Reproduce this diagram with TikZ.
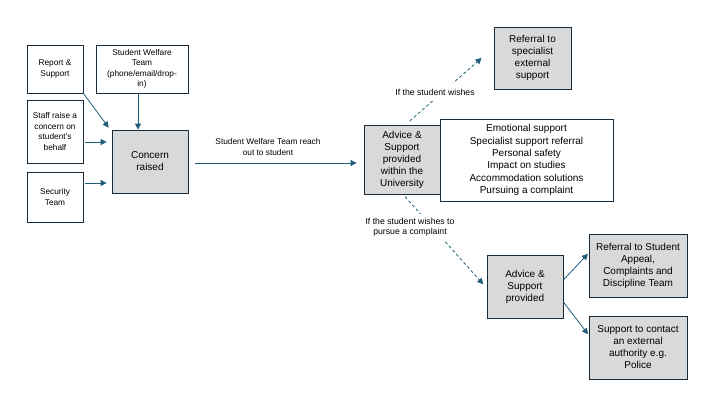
\documentclass[tikz,border=0pt]{standalone}
\usepackage{fontspec}
\setmainfont{Liberation Sans}
\usetikzlibrary{arrows.meta}
\definecolor{bordercol}{HTML}{172B3A}
\definecolor{arrcol}{HTML}{1F5C7A}
\definecolor{boxfill}{HTML}{D9D9D9}
\tikzset{
  box/.style={draw=bordercol, line width=0.8pt, align=center, inner sep=1pt},
  greybox/.style={box, fill=boxfill, font=\fontsize{10}{12}\selectfont},
  smallbox/.style={box, fill=white, font=\fontsize{8.3}{10.5}\selectfont},
  listbox/.style={box, fill=white, font=\fontsize{10}{12.3}\selectfont},
  lbl/.style={font=\fontsize{8.3}{10.3}\selectfont, align=center, inner sep=1pt},
  elbl/.style={lbl, font=\fontsize{8.7}{10.5}\selectfont, fill=white},
  arr/.style={draw=arrcol, line width=0.8pt, -{Triangle[length=6pt,width=6pt]}},
  darr/.style={arr, dash pattern=on 3pt off 2.5pt},
}
\begin{document}
\begin{tikzpicture}[x=1pt,y=-1pt]
\useasboundingbox (0,0) rectangle (720,405);
% left inputs
\node[smallbox, minimum width=56, minimum height=48] (rep) at (55,69) {Report \&\\Support};
\node[smallbox, minimum width=92, minimum height=48] (swt) at (142,69) {Student Welfare\\Team\\(phone/email/drop-\\in)};
\node[smallbox, minimum width=56, minimum height=63] (staff) at (55,131.5) {Staff raise a\\concern on\\student's\\behalf};
\node[smallbox, minimum width=56, minimum height=50] (sec) at (55,197) {Security\\Team};
\node[greybox, minimum width=76, minimum height=63] (concern) at (150,161.5) {Concern\\raised};
% middle
\node[greybox, minimum width=76, minimum height=69] (adv) at (402,159.5) {Advice \&\\Support\\provided\\within the\\University};
\node[listbox, minimum width=173, minimum height=82] (list) at (526.5,160) {Emotional support\\Specialist support referral\\Personal safety\\Impact on studies\\Accommodation solutions\\Pursuing a complaint};
\node[greybox, minimum width=77, minimum height=62] (ref) at (532.5,58) {Referral to\\specialist\\external\\support};
% bottom right
\node[greybox, minimum width=76, minimum height=63] (adv2) at (525,286.5) {Advice \&\\Support\\provided};
\node[greybox, minimum width=98, minimum height=63] (sacd) at (638,265.5) {Referral to Student\\Appeal,\\Complaints and\\Discipline Team};
\node[greybox, minimum width=98, minimum height=63] (ext) at (638,347.5) {Support to contact\\an external\\authority e.g.\\Police};
% arrows into concern
\draw[arr, shorten >=5pt] (rep.south east) -- ([yshift=-2]concern.north west);
\draw[arr] ([xshift=-4]swt.south) -- ([xshift=-4]swt.south |- concern.north);
\draw[arr, shorten <=2pt, shorten >=5pt] ([yshift=-10.5]staff.east) -- ([yshift=-10.5]staff.east -| concern.west);
\draw[arr, shorten <=2pt, shorten >=5pt] ([yshift=14]sec.east) -- ([yshift=14]sec.east -| concern.west);
% main arrow
\draw[arr, shorten <=7pt, shorten >=7pt] ([yshift=-1.5]concern.east) -- ([yshift=-3.5]adv.west);
\node[lbl] (mainlbl) at (268,147) {Student Welfare Team reach\\out to student};
% dashed up
\draw[darr, shorten <=1pt] ([xshift=7,yshift=3]adv.north) -- ([xshift=-12]ref.west);
\node[elbl, inner ysep=6pt] (uplbl) at (435,92) {If the student wishes};
% dashed down
\draw[darr, shorten <=3pt, shorten >=5pt] ([xshift=1]adv.south) -- ([yshift=-1.5]adv2.west);
\node[elbl, inner ysep=4pt, inner xsep=2pt] (downlbl) at (410,227) {If the student wishes to\\pursue a complaint};
% right arrows
\draw[arr, shorten >=1pt] ([yshift=6.5]adv2.east) -- ([yshift=12.5]sacd.west);
\draw[arr, shorten >=1pt] ([yshift=-15.5]adv2.east) -- ([yshift=12.5]ext.west);
\end{tikzpicture}
\end{document}
